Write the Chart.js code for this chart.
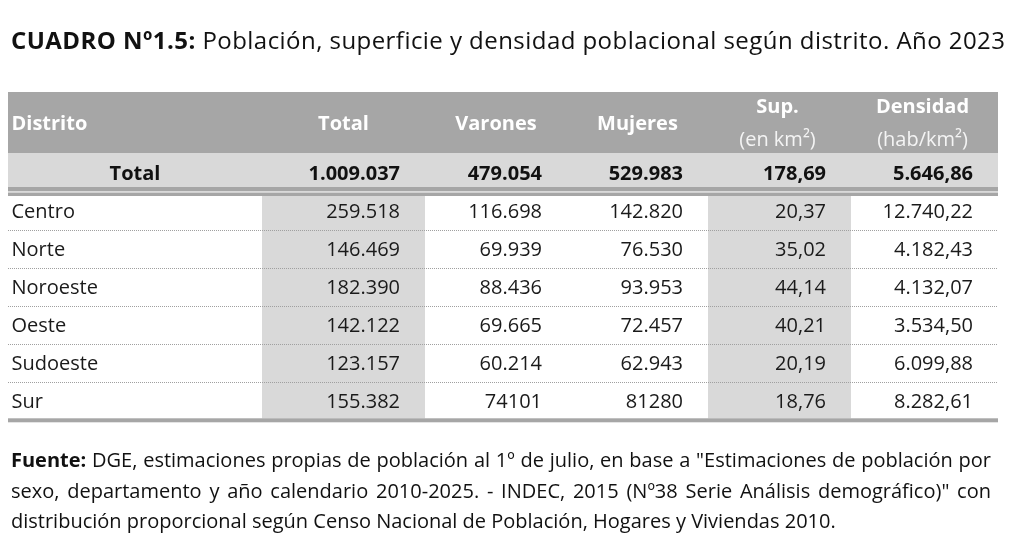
<!DOCTYPE html>
<html>
<head>
<meta charset="utf-8">
<script src="https://cdn.jsdelivr.net/npm/chart.js@4.4.1/dist/chart.umd.min.js"></script>
<style>
  html, body { margin: 0; padding: 0; background: #fff; }
  #wrap { position: relative; width: 1013px; height: 545px; overflow: hidden; }
  canvas { position: absolute; left: 0; top: 0; }
  .titulo { position: absolute; left: 11px; top: 25px; font: 24px "Open Sans", sans-serif; letter-spacing: 0.45px; line-height: 30px; color: #111; white-space: nowrap; }
  .fuente { position: absolute; left: 11px; top: 445px; width: 980px; font: 20px "Open Sans", sans-serif; line-height: 30.5px; color: #111; }
  .fuente .j { text-align: justify; text-align-last: justify; white-space: nowrap; }
  .fuente .l { white-space: nowrap; }
  b { font-weight: 700; }
</style>
</head>
<body>
<div id="wrap">
  <canvas id="tabla" width="1013" height="545"></canvas>
  <div class="titulo"><b>CUADRO Nº1.5:</b> Población, superficie y densidad poblacional según distrito. Año 2023</div>
  <div class="fuente">
    <div class="j"><b>Fuente:</b> DGE, estimaciones propias de población al 1º de julio, en base a "Estimaciones de población por</div>
    <div class="j">sexo, departamento y año calendario 2010-2025. - INDEC, 2015 (Nº38 Serie Análisis demográfico)" con</div>
    <div class="l">distribución proporcional según Censo Nacional de Población, Hogares y Viviendas 2010.</div>
  </div>
</div>
<script>
// datos del cuadro
const columnas = ['Distrito', 'Total', 'Varones', 'Mujeres', 'Sup.', 'Densidad'];
const unidades = ['', '', '', '', '(en km²)', '(hab/km²)'];
const filaTotal = ['Total', '1.009.037', '479.054', '529.983', '178,69', '5.646,86'];

const distritos = ['Centro', 'Norte', 'Noroeste', 'Oeste', 'Sudoeste', 'Sur'];
const poblacion = ['259.518', '146.469', '182.390', '142.122', '123.157', '155.382'];
const varones = ['116.698', '69.939', '88.436', '69.665', '60.214', '74101'];
const mujeres = ['142.820', '76.530', '93.953', '72.457', '62.943', '81280'];
const superficie = ['20,37', '35,02', '44,14', '40,21', '20,19', '18,76'];
const densidad = ['12.740,22', '4.182,43', '4.132,07', '3.534,50', '6.099,88', '8.282,61'];

// geometria de la tabla (en unidades de las escalas)
const bordesCol = [0, 254, 417, 559, 700, 843, 990];
const colsSombreadas = [1, 4];
const altoTabla = 330.3;
const FONT = '"Open Sans", sans-serif';

const tablaPlugin = {
  id: 'tabla',
  beforeDatasetsDraw(chart) {
    const ctx = chart.ctx;
    const sx = chart.scales.x, sy = chart.scales.y;
    const px = v => sx.getPixelForValue(v);
    const py = v => sy.getPixelForValue(v);
    const rect = (x0, y0, x1, y1, color) => {
      ctx.fillStyle = color;
      ctx.fillRect(px(x0), py(y0), px(x1) - px(x0), py(y1) - py(y0));
    };
    const ancho = bordesCol[bordesCol.length - 1];

    ctx.save();
    // encabezado
    rect(0, 0, ancho, 61, '#a6a6a6');
    // fila total + doble linea
    rect(0, 61, ancho, 100.7, '#d9d9d9');
    rect(0, 95, ancho, 99, '#a6a6a6');
    rect(0, 100.7, ancho, 104, '#a6a6a6');
    // columnas sombreadas
    colsSombreadas.forEach(c => rect(bordesCol[c], 104, bordesCol[c + 1], 326.3, '#d9d9d9'));
    // linea inferior
    rect(0, 326.3, ancho, altoTabla, '#a6a6a6');

    // separadores punteados
    ctx.strokeStyle = '#a0a0a0';
    ctx.lineWidth = 1;
    ctx.setLineDash([1, 1]);
    for (let i = 1; i < distritos.length; i++) {
      const y = Math.round(py(104 + 34 + 38 * (i - 1))) + 0.5;
      ctx.beginPath();
      ctx.moveTo(px(0), y);
      ctx.lineTo(px(ancho), y);
      ctx.stroke();
    }
    ctx.setLineDash([]);

    // textos del encabezado
    ctx.textBaseline = 'alphabetic';
    ctx.fillStyle = '#ffffff';
    columnas.forEach((txt, c) => {
      ctx.font = 'bold 20px ' + FONT;
      const centro = px((bordesCol[c] + bordesCol[c + 1]) / 2);
      if (c === 0) {
        ctx.textAlign = 'left';
        ctx.fillText(txt, px(3.5), py(38));
      } else if (unidades[c]) {
        ctx.textAlign = 'center';
        ctx.fillText(txt, centro - 2, py(21));
        ctx.font = '20px ' + FONT;
        ctx.fillStyle = '#f4f4f4';
        ctx.fillText(unidades[c], centro - 2, py(54));
        ctx.fillStyle = '#ffffff';
      } else {
        ctx.textAlign = 'center';
        ctx.fillText(txt, centro, py(38));
      }
    });

    // fila total
    ctx.fillStyle = '#111111';
    ctx.font = 'bold 20px ' + FONT;
    filaTotal.forEach((txt, c) => {
      if (c === 0) {
        ctx.textAlign = 'center';
        ctx.fillText(txt, px((bordesCol[0] + bordesCol[1]) / 2), py(88));
      } else {
        ctx.textAlign = 'right';
        ctx.fillText(txt, px(bordesCol[c + 1] - 25), py(88));
      }
    });

    // filas de distritos
    const valores = [poblacion, varones, mujeres, superficie, densidad];
    ctx.font = '20px ' + FONT;
    ctx.fillStyle = '#1a1a1a';
    distritos.forEach((d, i) => {
      const base = py(126.3 + 38 * i);
      ctx.textAlign = 'left';
      ctx.fillText(d, px(3.5), base);
      ctx.textAlign = 'right';
      valores.forEach((serie, k) => {
        ctx.fillText(serie[i], px(bordesCol[k + 2] - 25), base);
      });
    });
    ctx.restore();
  }
};

new Chart(document.getElementById('tabla'), {
  type: 'scatter',
  data: { datasets: [{ data: [], pointRadius: 0 }] },
  options: {
    responsive: false,
    animation: false,
    events: [],
    layout: { padding: { left: 8, right: 15, top: 92, bottom: 545 - 92 - altoTabla } },
    plugins: { legend: { display: false }, tooltip: { enabled: false }, title: { display: false } },
    scales: {
      x: { type: 'linear', min: 0, max: bordesCol[bordesCol.length - 1], display: false },
      y: { type: 'linear', min: 0, max: altoTabla, reverse: true, display: false }
    }
  },
  plugins: [tablaPlugin]
});
</script>
</body>
</html>
